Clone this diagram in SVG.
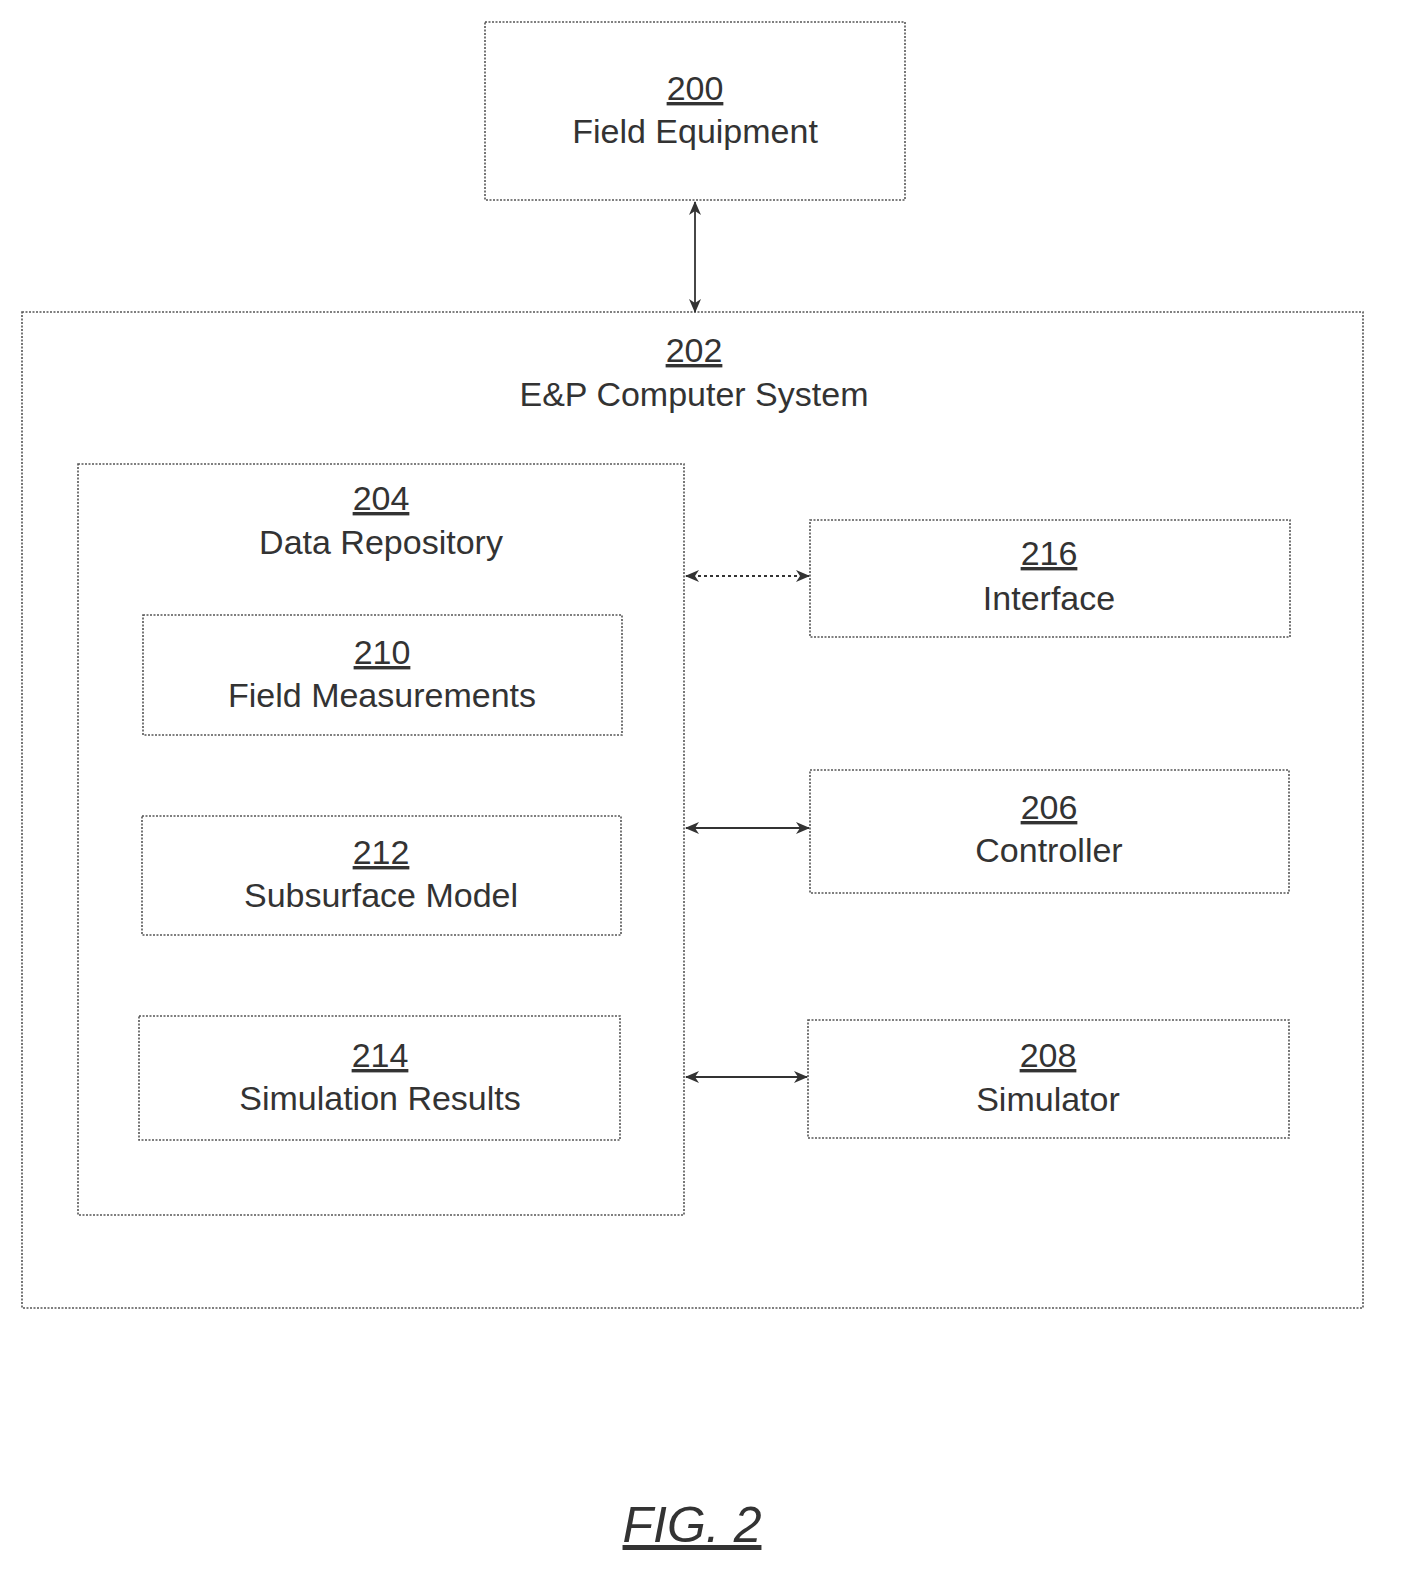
<svg xmlns="http://www.w3.org/2000/svg" width="1409" height="1595" viewBox="0 0 1409 1595">
<style>
.b{fill:none;stroke:#555;stroke-width:1.6;stroke-dasharray:2 1.5}
.t{font-family:"Liberation Sans",Arial,sans-serif;font-size:34px;fill:#333;text-anchor:middle}
.u{text-decoration:underline}
.c{stroke:#333;stroke-width:1.8;fill:none}
.d{stroke-dasharray:3 3}
</style>
<defs>
<marker id="a" markerWidth="14" markerHeight="12" refX="13" refY="6" orient="auto-start-reverse" markerUnits="userSpaceOnUse">
<path d="M0,0 L14,6 L0,12 L4,6 Z" fill="#333"/>
</marker>
</defs>
<rect width="1409" height="1595" fill="#fff"/>
<g id="n200"><rect class="b" x="485" y="22" width="420" height="178"/><text class="t u" x="695" y="100">200</text><text class="t" x="695" y="143">Field Equipment</text></g>
<g id="n202"><rect class="b" x="22" y="312" width="1341" height="996"/><text class="t u" x="694" y="362">202</text><text class="t" x="694" y="406">E&amp;P Computer System</text></g>
<g id="n204"><rect class="b" x="78" y="464" width="606" height="751"/><text class="t u" x="381" y="510">204</text><text class="t" x="381" y="554">Data Repository</text></g>
<g id="n210"><rect class="b" x="143" y="615" width="479" height="120"/><text class="t u" x="382" y="664">210</text><text class="t" x="382" y="707">Field Measurements</text></g>
<g id="n212"><rect class="b" x="142" y="816" width="479" height="119"/><text class="t u" x="381" y="864">212</text><text class="t" x="381" y="907">Subsurface Model</text></g>
<g id="n214"><rect class="b" x="139" y="1016" width="481" height="124"/><text class="t u" x="380" y="1067">214</text><text class="t" x="380" y="1110">Simulation Results</text></g>
<g id="n216"><rect class="b" x="810" y="520" width="480" height="117"/><text class="t u" x="1049" y="565">216</text><text class="t" x="1049" y="610">Interface</text></g>
<g id="n206"><rect class="b" x="810" y="770" width="479" height="123"/><text class="t u" x="1049" y="819">206</text><text class="t" x="1049" y="862">Controller</text></g>
<g id="n208"><rect class="b" x="808" y="1020" width="481" height="118"/><text class="t u" x="1048" y="1067">208</text><text class="t" x="1048" y="1111">Simulator</text></g>
<g id="connectors">
<line class="c" x1="695" y1="202" x2="695" y2="312" marker-start="url(#a)" marker-end="url(#a)"/>
<line class="c d" x1="686" y1="576" x2="809" y2="576" marker-start="url(#a)" marker-end="url(#a)"/>
<line class="c" x1="686" y1="828" x2="809" y2="828" marker-start="url(#a)" marker-end="url(#a)"/>
<line class="c" x1="686" y1="1077" x2="807" y2="1077" marker-start="url(#a)" marker-end="url(#a)"/>
</g>
<text class="u" x="692" y="1542" font-family="Liberation Sans,Arial,sans-serif" font-size="50" font-style="italic" fill="#333" text-anchor="middle">FIG. 2</text>
</svg>
